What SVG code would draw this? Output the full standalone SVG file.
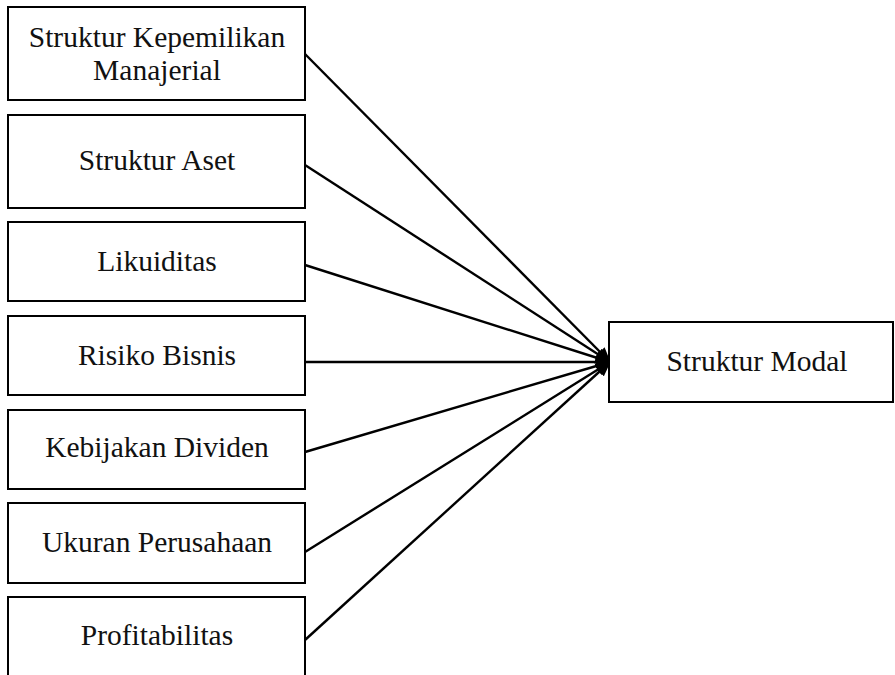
<svg xmlns="http://www.w3.org/2000/svg" width="895" height="675" viewBox="0 0 895 675">
<style>
.box{fill:#fff;stroke:#000;stroke-width:2}
.t{font-family:"Liberation Serif","Times New Roman",serif;font-size:29.5px;fill:#111;text-anchor:middle}
.c{stroke:#000;stroke-width:2.4;fill:none;marker-end:url(#ah)}
</style>
<defs>
<marker id="ah" viewBox="0 0 12 10" refX="11" refY="5" markerWidth="6.5" markerHeight="5.5" orient="auto" markerUnits="strokeWidth">
<path d="M0,0 L12,5 L0,10 Z" fill="#000"/>
</marker>
</defs>
<rect width="895" height="675" fill="#fff"/>
<g id="connectors">
<line class="c" x1="305" y1="54" x2="610" y2="362"/>
<line class="c" x1="305" y1="165" x2="610" y2="362"/>
<line class="c" x1="305" y1="265" x2="610" y2="362"/>
<line class="c" x1="305" y1="362" x2="610" y2="362"/>
<line class="c" x1="305" y1="452" x2="610" y2="362"/>
<line class="c" x1="305" y1="552" x2="610" y2="362"/>
<line class="c" x1="305" y1="640" x2="610" y2="362"/>
</g>
<g id="n1"><rect class="box" x="8" y="7" width="297" height="93"/><text class="t" x="157" y="47">Struktur Kepemilikan</text><text class="t" x="157" y="80">Manajerial</text></g>
<g id="n2"><rect class="box" x="8" y="115" width="297" height="93"/><text class="t" x="157" y="170">Struktur Aset</text></g>
<g id="n3"><rect class="box" x="8" y="222" width="297" height="79"/><text class="t" x="157" y="271">Likuiditas</text></g>
<g id="n4"><rect class="box" x="8" y="316" width="297" height="79"/><text class="t" x="157" y="365">Risiko Bisnis</text></g>
<g id="n5"><rect class="box" x="8" y="410" width="297" height="79"/><text class="t" x="157" y="457">Kebijakan Dividen</text></g>
<g id="n6"><rect class="box" x="8" y="503" width="297" height="80"/><text class="t" x="157" y="552">Ukuran Perusahaan</text></g>
<g id="n7"><rect class="box" x="8" y="597" width="297" height="90"/><text class="t" x="157" y="645">Profitabilitas</text></g>
<g id="n8"><rect class="box" x="609" y="322" width="284" height="80"/><text class="t" x="757" y="371">Struktur Modal</text></g>
</svg>
